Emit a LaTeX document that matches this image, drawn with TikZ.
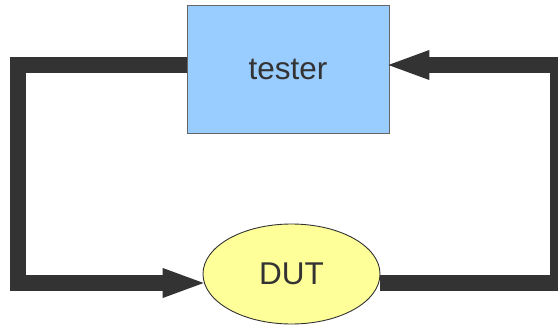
\documentclass[tikz,border=0pt]{standalone}
\usepackage{fontspec}
\setmainfont{Liberation Sans}
\usepackage{tikz}
\usetikzlibrary{shapes.geometric, arrows.meta, positioning}

\definecolor{boxblue}{HTML}{99CCFF}
\definecolor{dutyellow}{HTML}{FFFF99}
\definecolor{wiregray}{HTML}{333333}
\definecolor{textgray}{HTML}{333333}

\tikzset{
  unitbox/.style={rectangle, draw=gray!80!black, fill=boxblue, line width=0.9pt,
    minimum width=202pt, minimum height=128pt, text=textgray,
    font=\fontsize{31.5}{36}\selectfont},
  dutshape/.style={ellipse, draw=wiregray, fill=dutyellow, line width=0.9pt,
    minimum width=177pt, minimum height=100pt, inner sep=0pt, text=textgray,
    font=\fontsize{31.5}{36}\selectfont},
  wire/.style={draw=wiregray, line width=16pt, line join=miter},
  wirearrow/.style={wire, -{Triangle[length=45pt, width=26pt]}, shorten >=-5pt}
}

\begin{document}
\begin{tikzpicture}[x=1pt, y=-1pt]
\useasboundingbox (0,0) rectangle (558,327);
% the two blocks
\node [unitbox] (tester) at (288,69) {tester};
\node [dutshape] (dut) at (291.5,274) {DUT};
% loop: tester -> DUT on the left, DUT -> tester on the right
\draw [wirearrow] ([yshift=4pt]tester.west) -| (18,283) -- ([yshift=-9pt]dut.west);
\draw [wirearrow] ([yshift=-9pt]dut.east) -| (558,65) -- ([yshift=4pt]tester.east);
\end{tikzpicture}
\end{document}
